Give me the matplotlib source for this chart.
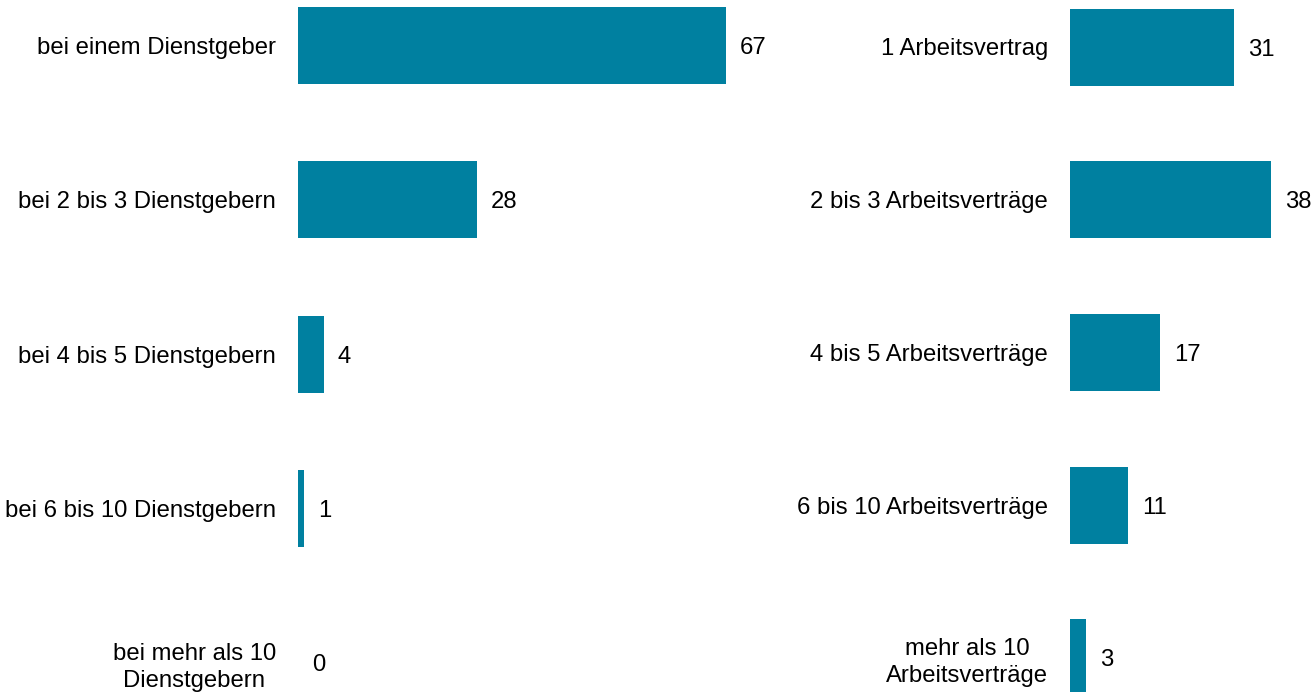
import matplotlib
matplotlib.use("Agg")
import matplotlib.pyplot as plt

left_categories = ["bei einem Dienstgeber", "bei 2 bis 3 Dienstgebern", "bei 4 bis 5 Dienstgebern",
                   "bei 6 bis 10 Dienstgebern", "bei mehr als 10\nDienstgebern"]
left_values = [67, 28, 4, 1, 0]
right_categories = ["1 Arbeitsvertrag", "2 bis 3 Arbeitsverträge", "4 bis 5 Arbeitsverträge",
                    "6 bis 10 Arbeitsverträge", "mehr als 10\nArbeitsverträge"]
right_values = [31, 38, 17, 11, 3]

plt.rcParams['font.family'] = ['Liberation Sans', 'DejaVu Sans']
COLOR = "#0080A0"
FS = 17.2
W, H = 1316, 692
fig = plt.figure(figsize=(W / 100, H / 100), dpi=100)

def panel(x0, x1, first_center, spacing, cats, vals):
    xmax = max(vals)
    ax = fig.add_axes([x0 / W, 0, (x1 - x0) / W, 1])
    top = -first_center / spacing
    bottom = (H - first_center) / spacing
    ys = list(range(len(vals)))
    ax.barh(ys, vals, height=77 / spacing, color=COLOR)
    ax.set_ylim(bottom, top)
    ax.set_xlim(0, xmax)
    ax.axis("off")
    px = xmax / (x1 - x0)
    for y, v, c in zip(ys, vals, cats):
        ax.text(v + 14 * px, y, str(v), ha="left", va="center_baseline", fontsize=FS, clip_on=False)
        ax.text(-22 * px, y, c, ha="right", va="center_baseline", fontsize=FS,
                multialignment="center", linespacing=1.3, clip_on=False)
    return ax

panel(298, 726, 45.5, 154.3, left_categories, left_values)
panel(1070, 1271, 47, 152.7, right_categories, right_values)

fig.savefig("out.png", dpi=100)
